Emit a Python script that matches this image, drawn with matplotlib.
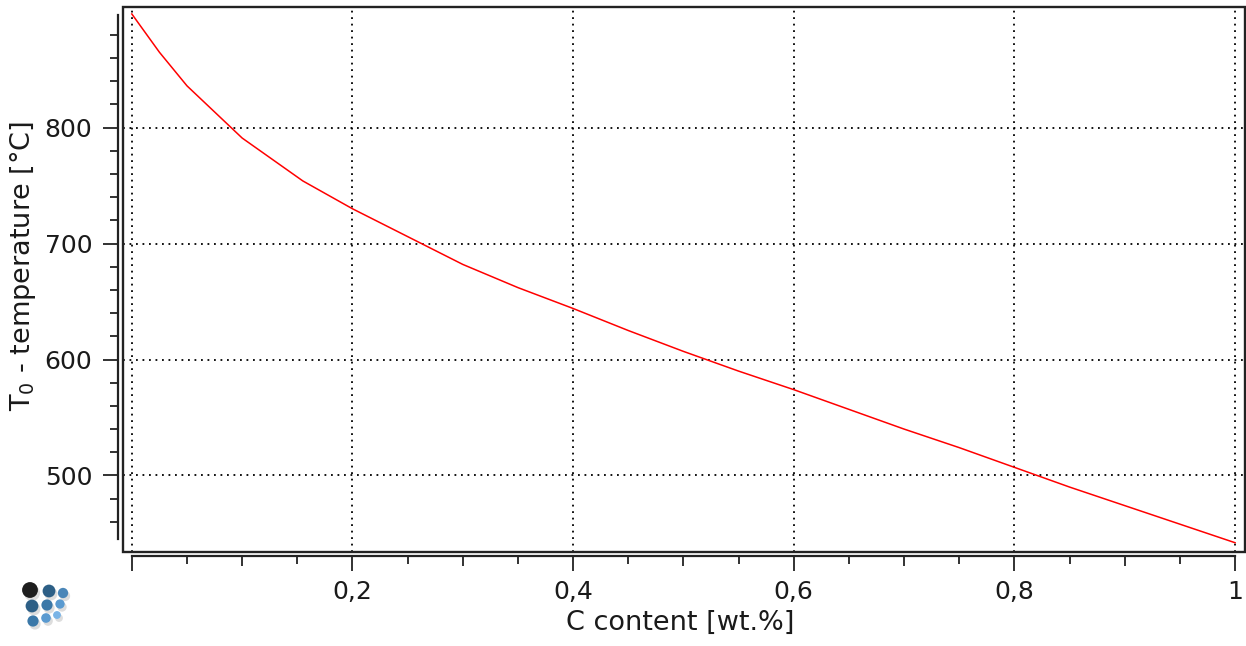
import numpy as np
import matplotlib.pyplot as plt
from matplotlib.patches import Rectangle
from matplotlib.ticker import FixedLocator, FuncFormatter

# T0 curve
c_content = [0.0, 0.025, 0.05, 0.10, 0.155, 0.20, 0.25, 0.30, 0.35, 0.40, 0.45, 0.50,
             0.55, 0.60, 0.65, 0.70, 0.75, 0.80, 0.85, 0.90, 0.95, 1.0]
t0_temp = [898, 865, 836, 791, 754, 730, 706, 682, 662, 644, 625, 607,
           590, 574, 557, 540, 524, 507, 490, 474, 458, 442]

x_major = [0.0, 0.2, 0.4, 0.6, 0.8, 1.0]
x_mid = [0.1, 0.3, 0.5, 0.7, 0.9]
x_minor = [0.05, 0.15, 0.25, 0.35, 0.45, 0.55, 0.65, 0.75, 0.85, 0.95]
y_major = [500, 600, 700, 800]
y_minor = [460, 480, 520, 540, 560, 580, 620, 640, 660, 680,
           720, 740, 760, 780, 820, 840, 860, 880]

W, H = 1246, 646
fig = plt.figure(figsize=(W / 100, H / 100), dpi=100)
ax = fig.add_axes([123 / W, 1 - 552 / H, (1245 - 123) / W, (552 - 7) / H])

ax.plot(c_content, t0_temp, color="#ff0000", lw=1.1, zorder=3)

ax.set_xlim(-0.008, 1.009)
ax.set_ylim(434, 904)

# frame box, axis spines sit a little outside it
for s in ["top", "right"]:
    ax.spines[s].set_visible(False)
ax.add_patch(Rectangle((0, 0), 1, 1, transform=ax.transAxes, fill=False,
                       ec="#222222", lw=1.7, clip_on=False, zorder=4))
ax.spines["left"].set_position(("outward", 3.6))
ax.spines["left"].set_bounds(445, 897)
ax.spines["bottom"].set_position(("outward", 3.0))
ax.spines["bottom"].set_bounds(0.0, 1.0)
for s in ["left", "bottom"]:
    ax.spines[s].set_linewidth(1.6)
    ax.spines[s].set_color("#222222")

ax.xaxis.set_major_locator(FixedLocator(x_major))
ax.xaxis.set_minor_locator(FixedLocator(x_minor))
ax.yaxis.set_major_locator(FixedLocator(y_major))
ax.yaxis.set_minor_locator(FixedLocator(y_minor))


def comma_fmt(v, pos):
    if abs(v) < 1e-9:
        return ""
    return f"{v:g}".replace(".", ",")


ax.xaxis.set_major_formatter(FuncFormatter(comma_fmt))
ax.tick_params(axis="both", which="major", length=10.5, width=1.3,
               color="#222222", labelsize=18, labelcolor="#1a1a1a")
ax.tick_params(axis="both", which="minor", length=5.5, width=1.3, color="#222222")
ax.tick_params(axis="y", which="major", pad=8)
ax.tick_params(axis="x", which="major", pad=7)
ax.xaxis.get_major_ticks()[0].tick1line.set_visible(False)

# medium ticks every 0.1 on the x axis
ax2 = ax.twiny()
ax2.set_xlim(ax.get_xlim())
ax2.xaxis.set_ticks_position("bottom")
ax2.spines["bottom"].set_position(("outward", 3.0))
for s in ax2.spines.values():
    s.set_visible(False)
ax2.xaxis.set_major_locator(FixedLocator(x_mid))
ax2.tick_params(axis="x", which="major", length=7.5, width=1.3,
                color="#222222", labelbottom=False, labeltop=False, top=False)

ax.grid(True, which="major", color="black", lw=1.3, linestyle=(0, (1, 2.6)))

ax.set_xlabel("C content [wt.%]", fontsize=19.5, color="#1a1a1a")
ax.xaxis.set_label_coords(0.497, -0.106)
ax.set_ylabel("T$_0$ - temperature [°C]", fontsize=19.5, color="#1a1a1a")
ax.yaxis.set_label_coords(-0.076, 0.524)

# small logo in the lower left corner
logo = fig.add_axes([0, 0, 1, 1], zorder=-1)
logo.set_xlim(0, W)
logo.set_ylim(H, 0)
logo.axis("off")
ball_x = [30, 49, 63, 32, 47, 60, 33, 46, 57]
ball_y = [590, 591, 593, 606, 605, 604, 621, 618, 615]
ball_s = [130, 85, 55, 85, 65, 45, 65, 48, 32]
ball_c = ["#1e1e1e", "#2d5f86", "#4a86b8", "#2d5f86", "#3b78a8", "#5a9ad0",
          "#3b78a8", "#5a9ad0", "#7ab4e6"]
logo.scatter([x + 2 for x in ball_x], [y + 3 for y in ball_y], s=ball_s,
             c="#cfcfcf", edgecolors="none", alpha=0.7)
logo.scatter(ball_x, ball_y, s=ball_s, c=ball_c, edgecolors="none")

fig.savefig("out.png", dpi=100)
